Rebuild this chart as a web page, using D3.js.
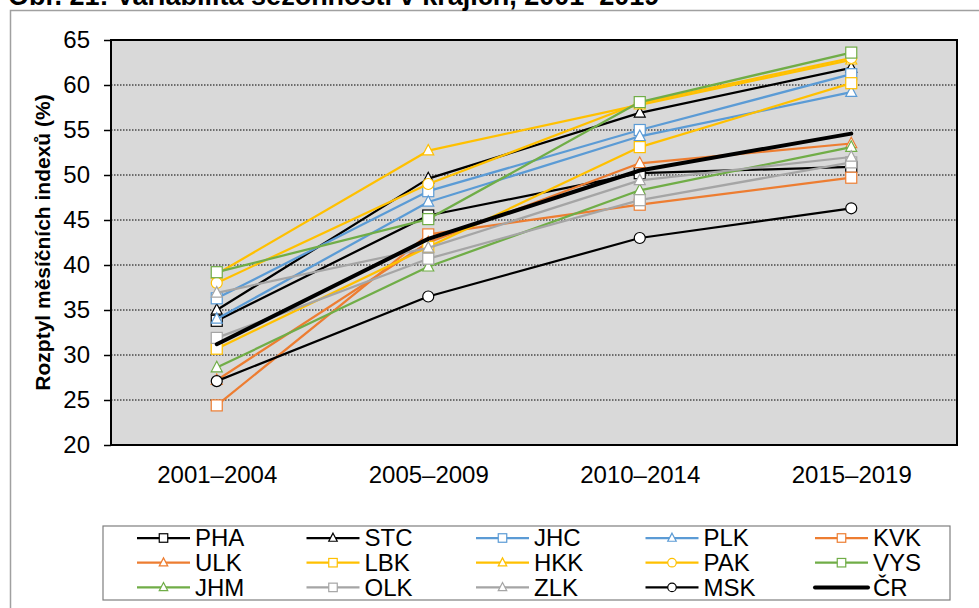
<!DOCTYPE html>
<html>
<head>
<meta charset="utf-8">
<script src="https://cdn.jsdelivr.net/npm/d3@7"></script>
<style>
	body { margin: 0; background: #fff; }
	svg { display: block; font-family: Arial, "Liberation Sans", sans-serif; }
</style>
</head>
<body>
<svg id="chart" width="979" height="608"></svg>
<script>
// data
var periods = ["2001–2004", "2005–2009", "2010–2014", "2015–2019"];
var yTicks = [20, 25, 30, 35, 40, 45, 50, 55, 60, 65];

var seriesNames = ["PHA", "STC", "JHC", "PLK", "KVK", "ULK", "LBK", "HKK", "PAK", "VYS", "JHM", "OLK", "ZLK", "MSK", "ČR"];
var PHA = [33.8, 45.5, 50.2, 50.9];
var STC = [35.0, 49.6, 56.9, 61.9];
var JHC = [36.3, 48.2, 55.0, 61.2];
var PLK = [34.0, 47.0, 54.3, 59.2];
var KVK = [24.4, 43.4, 46.7, 49.7];
var ULK = [27.2, 42.5, 51.3, 53.5];
var LBK = [30.7, 42.0, 53.1, 60.2];
var HKK = [39.0, 52.7, 57.8, 62.8];
var PAK = [38.0, 49.0, 58.0, 63.0];
var VYS = [39.2, 45.1, 58.1, 63.6];
var JHM = [28.6, 39.8, 48.3, 53.1];
var OLK = [31.9, 40.7, 47.2, 51.4];
var ZLK = [36.9, 41.9, 49.4, 52.0];
var MSK = [27.1, 36.5, 43.0, 46.3];
var CR  = [31.2, 42.9, 50.5, 54.6];

var seriesValues = [PHA, STC, JHC, PLK, KVK, ULK, LBK, HKK, PAK, VYS, JHM, OLK, ZLK, MSK, CR];
var seriesColours = ["#000000", "#000000", "#5B9BD5", "#5B9BD5", "#ED7D31", "#ED7D31", "#FFC000", "#FFC000", "#FFC000", "#70AD47", "#70AD47", "#A5A5A5", "#A5A5A5", "#000000", "#000000"];
var seriesMarkers = ["square", "triangle", "square", "triangle", "square", "triangle", "square", "triangle", "circle", "square", "triangle", "square", "triangle", "circle", "none"];

var series = seriesNames.map(function(name, i) {
	return { name: name, values: seriesValues[i], colour: seriesColours[i], marker: seriesMarkers[i] };
});

var plot = { left: 111, right: 957, top: 40, bottom: 445 };
var fontSize = "24px";
var svg = d3.select("#chart");

// outer frame and title (title is cut at the top edge, as in the source)
svg.append("path")
	.attr("d", "M10.5,620 V10.5 H990")
	.style("fill", "none")
	.style("stroke", "#a0a0a0")
	.style("stroke-width", 1.5);
svg.append("text")
	.attr("x", 8)
	.attr("y", 5)
	.style("font-size", "27px")
	.style("font-weight", "bold")
	.text("Obr. 21: Variabilita sezónnosti v krajích, 2001–2019");

// scales
var xScale = d3.scalePoint()
	.domain(periods)
	.range([plot.left, plot.right])
	.padding(0.5);
var yScale = d3.scaleLinear()
	.domain([20, 65])
	.range([plot.bottom, plot.top]);

// plot area
svg.append("rect")
	.attr("x", plot.left)
	.attr("y", plot.top)
	.attr("width", plot.right - plot.left)
	.attr("height", plot.bottom - plot.top)
	.style("fill", "#D9D9D9");

// grid
svg.append("g")
	.selectAll("line")
	.data(yTicks.slice(1, -1))
	.enter()
	.append("line")
	.attr("x1", plot.left)
	.attr("x2", plot.right)
	.attr("y1", function(d) { return yScale(d); })
	.attr("y2", function(d) { return yScale(d); })
	.style("stroke", "#000")
	.style("stroke-width", 1)
	.style("stroke-dasharray", "1.5,1.5");

// axes
var yAxis = d3.axisLeft(yScale)
	.tickValues(yTicks)
	.tickSize(7)
	.tickPadding(14);
var yAxisGroup = svg.append("g")
	.attr("class", "axis y")
	.attr("transform", "translate(" + plot.left + ",0)")
	.call(yAxis);
yAxisGroup.select(".domain").remove();
yAxisGroup.selectAll("line").style("stroke", "#000").style("stroke-width", 1.5);
yAxisGroup.selectAll("text")
	.style("font-size", fontSize)
	.style("font-family", "Arial, 'Liberation Sans', sans-serif")
	.style("fill", "#000");

var xAxis = d3.axisBottom(xScale).tickSize(0).tickPadding(21);
var xAxisGroup = svg.append("g")
	.attr("class", "axis x")
	.attr("transform", "translate(0," + plot.bottom + ")")
	.call(xAxis);
xAxisGroup.select(".domain").remove();
xAxisGroup.selectAll("text")
	.style("font-size", fontSize)
	.style("font-family", "Arial, 'Liberation Sans', sans-serif")
	.style("fill", "#000");

svg.append("rect")
	.attr("x", plot.left)
	.attr("y", plot.top)
	.attr("width", plot.right - plot.left)
	.attr("height", plot.bottom - plot.top)
	.style("fill", "none")
	.style("stroke", "#000")
	.style("stroke-width", 2);

// y label
svg.append("text")
	.attr("transform", "translate(50," + ((plot.top + plot.bottom) / 2) + ") rotate(-90)")
	.style("text-anchor", "middle")
	.style("font-size", "21px")
	.style("font-weight", "bold")
	.text("Rozptyl měsíčních indexů (%)");

// marker helper
function drawMarker(group, type, x, y, size, colour) {
	if (type == "square") {
		group.append("rect")
			.attr("x", x - size / 2)
			.attr("y", y - size / 2)
			.attr("width", size)
			.attr("height", size)
			.style("fill", "#fff")
			.style("stroke", colour)
			.style("stroke-width", 1.2);
	} else if (type == "triangle") {
		var h = size * 0.95;
		group.append("path")
			.attr("d", "M" + x + "," + (y - h * 0.6) + " L" + (x + size / 2) + "," + (y + h * 0.4) + " L" + (x - size / 2) + "," + (y + h * 0.4) + " Z")
			.style("fill", "#fff")
			.style("stroke", colour)
			.style("stroke-width", 1.2);
	} else if (type == "circle") {
		group.append("circle")
			.attr("cx", x)
			.attr("cy", y)
			.attr("r", size / 2)
			.style("fill", "#fff")
			.style("stroke", colour)
			.style("stroke-width", 1.2);
	}
}

// series
var line = d3.line()
	.x(function(d, i) { return xScale(periods[i]); })
	.y(function(d) { return yScale(d); });

series.forEach(function(s) {
	var g = svg.append("g").attr("class", "series");
	g.append("path")
		.datum(s.values)
		.attr("d", line)
		.style("fill", "none")
		.style("stroke", s.colour)
		.style("stroke-width", s.marker == "none" ? 4 : 2.25)
		.style("stroke-linejoin", "round")
		.style("stroke-linecap", "round");
	s.values.forEach(function(v, i) {
		drawMarker(g, s.marker, xScale(periods[i]), yScale(v), 11, s.colour);
	});
});

// legend
var legend = { left: 103, top: 526, width: 847, height: 74, colStep: 169.5, rowStep: 24.7 };
svg.append("rect")
	.attr("x", legend.left)
	.attr("y", legend.top)
	.attr("width", legend.width)
	.attr("height", legend.height)
	.style("fill", "#fff")
	.style("stroke", "#7f7f7f")
	.style("stroke-width", 1.2);

var legendItems = svg.selectAll(".legend-item")
	.data(series)
	.enter()
	.append("g")
	.attr("class", "legend-item")
	.attr("transform", function(d, i) {
		var col = i % 5, row = Math.floor(i / 5);
		return "translate(" + (137 + col * legend.colStep) + "," + (538 + row * legend.rowStep) + ")";
	});
legendItems.each(function(d) {
	var g = d3.select(this);
	g.append("line")
		.attr("x1", 0)
		.attr("x2", 53)
		.style("stroke", d.colour)
		.style("stroke-width", d.marker == "none" ? 4 : 2.25)
		.style("stroke-linecap", d.marker == "none" ? "round" : "butt");
	drawMarker(g, d.marker, 26.5, 0, 8.5, d.colour);
	g.append("text")
		.attr("x", 58)
		.attr("dy", "0.35em")
		.style("font-size", fontSize)
		.text(d.name);
});
</script>
</body>
</html>
